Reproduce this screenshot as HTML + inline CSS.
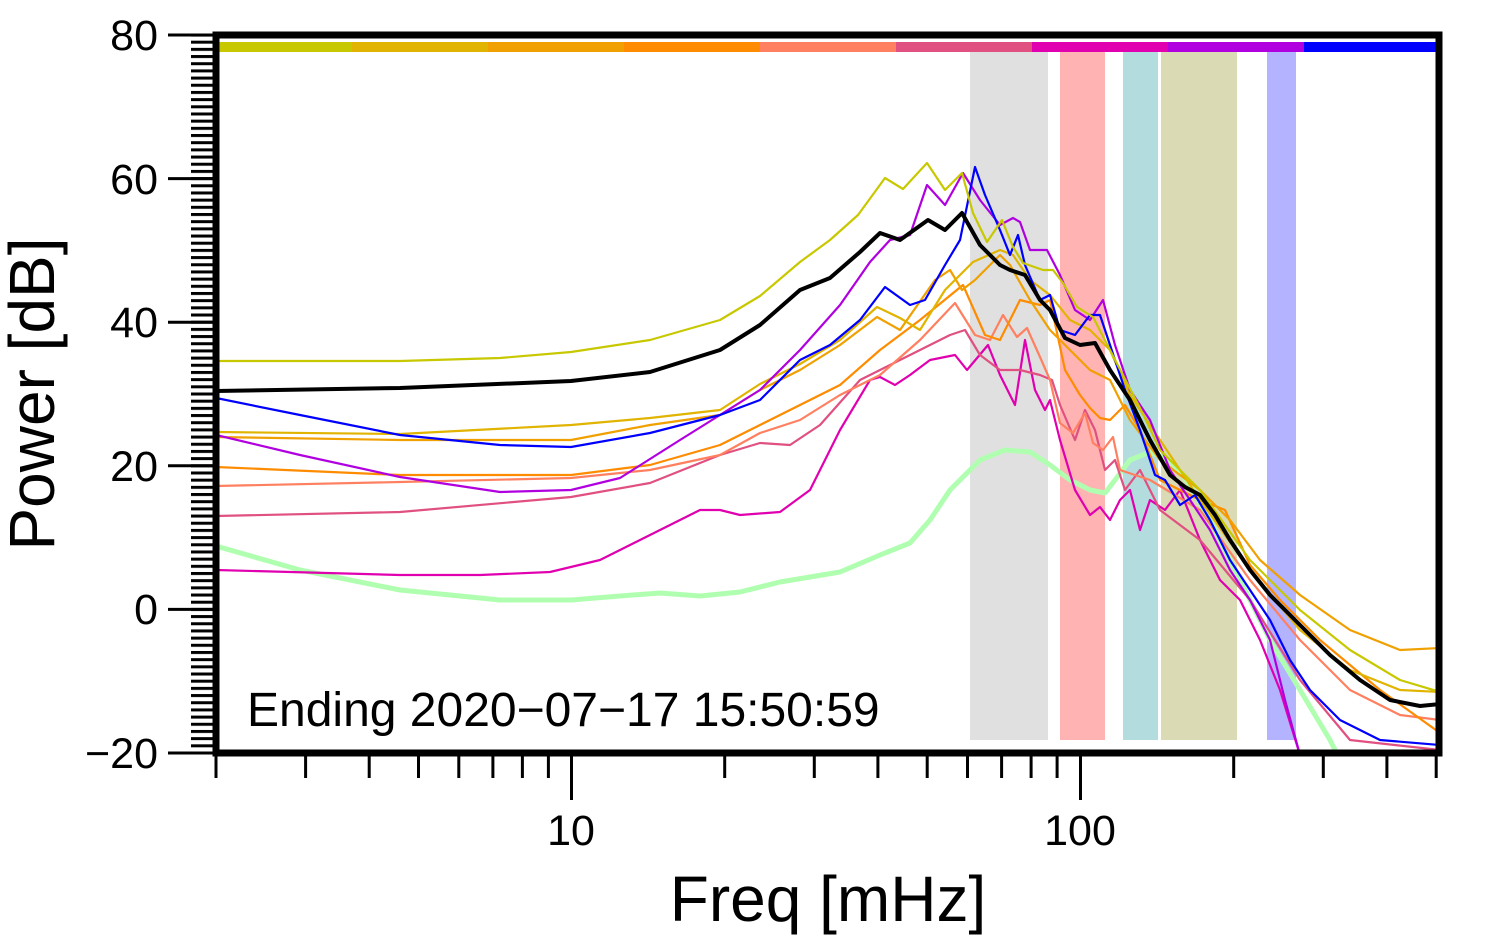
<!DOCTYPE html>
<html><head><meta charset="utf-8"><style>
html,body{margin:0;padding:0;background:#fff}
svg{display:block}
text{font-family:"Liberation Sans",sans-serif;fill:#000}
</style></head><body>
<svg width="1494" height="952" viewBox="0 0 1494 952" xmlns="http://www.w3.org/2000/svg">
<defs>
<clipPath id="c"><rect x="216" y="35" width="1223" height="718"/></clipPath>
<pattern id="mt" patternUnits="userSpaceOnUse" x="191" y="33.5" width="22" height="7.18"><rect x="0" y="0" width="22" height="3" fill="#000"/></pattern>
</defs>
<rect x="970" y="52" width="78" height="688" fill="#e0e0e0"/>
<rect x="1060" y="52" width="45" height="688" fill="#ffb3b3"/>
<rect x="1123" y="52" width="35" height="688" fill="#b3dcdf"/>
<rect x="1161" y="52" width="76" height="688" fill="#dadab4"/>
<rect x="1267" y="52" width="29" height="688" fill="#b3b3ff"/>
<g stroke-width="10">
<line x1="216" y1="47" x2="352" y2="47" stroke="#c8c800"/>
<line x1="352" y1="47" x2="488" y2="47" stroke="#e0b400"/>
<line x1="488" y1="47" x2="624" y2="47" stroke="#f0a000"/>
<line x1="624" y1="47" x2="760" y2="47" stroke="#ff8c00"/>
<line x1="760" y1="47" x2="896" y2="47" stroke="#ff8060"/>
<line x1="896" y1="47" x2="1032" y2="47" stroke="#e05080"/>
<line x1="1032" y1="47" x2="1168" y2="47" stroke="#e000b0"/>
<line x1="1168" y1="47" x2="1304" y2="47" stroke="#b000e0"/>
<line x1="1304" y1="47" x2="1440" y2="47" stroke="#0000ff"/>
</g>
<g clip-path="url(#c)" fill="none" stroke-linejoin="round" stroke-linecap="round">
<polyline stroke="#b0ffb0" stroke-width="5" points="216,546 300,570 400,590 500,600 571,600 620,596 660,593 700,596 740,592 780,582 840,572 880,555 910,543 930,520 950,490 980,460 1005,450 1030,452 1050,465 1070,480 1090,490 1105,493 1115,480 1130,460 1150,452 1170,460 1190,485 1210,520 1240,580 1270,640 1300,690 1330,740 1340,760"/>
<polyline stroke="#e000b0" stroke-width="2.2" points="216,570 400,575 480,575 550,572 600,560 660,530 700,510 720,510 740,515 780,512 810,490 840,430 870,380 880,377 895,385 910,375 930,360 955,355 967,370 988,345 1000,375 1015,405 1025,340 1035,390 1045,410 1050,400 1060,440 1075,490 1090,515 1100,507 1110,520 1120,500 1130,490 1140,530 1150,500 1165,510 1180,490 1200,540 1220,580 1240,600 1260,640 1280,690 1300,755"/>
<polyline stroke="#e05080" stroke-width="2.2" points="216,516 400,512 571,497 650,483 720,455 760,443 790,445 820,425 860,380 900,360 950,335 965,330 980,355 1000,370 1020,370 1040,375 1052,380 1060,405 1075,440 1085,410 1095,430 1105,470 1115,460 1125,490 1140,470 1160,510 1200,540 1250,600 1300,680 1350,740 1440,750"/>
<polyline stroke="#ff8060" stroke-width="2.2" points="216,486 400,482 571,478 650,470 720,455 760,433 800,420 840,395 880,375 920,340 955,303 975,335 990,340 1003,315 1017,337 1027,328 1040,357 1050,380 1060,423 1073,433 1085,413 1093,443 1103,450 1113,437 1120,470 1150,480 1200,510 1250,580 1300,640 1350,690 1400,715 1440,720"/>
<polyline stroke="#ff8c00" stroke-width="2.2" points="216,467 400,475 571,475 650,465 720,445 760,425 800,405 840,385 880,350 920,320 963,285 985,335 1000,340 1020,300 1040,305 1050,300 1065,370 1080,395 1090,408 1100,418 1110,420 1125,405 1140,430 1160,480 1200,500 1225,510 1250,565 1280,600 1320,640 1380,690 1440,733"/>
<polyline stroke="#f0a000" stroke-width="2.2" points="216,437 400,440 571,440 650,425 720,415 760,390 800,370 840,345 877,317 900,330 935,280 950,270 962,290 975,280 1000,255 1010,265 1030,300 1050,330 1070,350 1090,370 1110,380 1130,420 1160,460 1200,490 1230,520 1260,560 1300,595 1350,630 1400,650 1440,648"/>
<polyline stroke="#e0b400" stroke-width="2.2" points="216,432 400,434 571,425 650,418 720,410 760,384 800,364 840,340 877,307 900,318 920,330 945,290 973,262 1000,250 1013,255 1030,280 1050,295 1070,320 1090,330 1110,350 1130,395 1160,440 1200,500 1250,570 1300,630 1350,670 1400,690 1440,692"/>
<polyline stroke="#b000e0" stroke-width="2.2" points="216,435 300,455 400,477 500,492 571,490 620,478 680,440 720,415 760,390 800,350 840,305 870,262 890,240 910,235 927,185 945,205 963,173 980,200 1000,225 1013,218 1020,222 1030,250 1047,250 1060,275 1075,310 1090,320 1103,300 1115,345 1130,390 1150,420 1170,470 1190,500 1210,530 1230,570 1250,600 1270,640 1285,700 1300,755"/>
<polyline stroke="#0000ff" stroke-width="2.2" points="216,398 300,415 400,435 500,445 571,447 650,433 720,415 760,400 800,360 830,345 860,320 885,287 910,305 925,300 945,265 960,240 975,167 985,195 1000,230 1010,255 1018,235 1025,265 1040,300 1050,295 1060,330 1075,335 1090,315 1100,315 1110,345 1125,390 1140,430 1155,475 1165,480 1180,505 1195,495 1210,520 1230,560 1250,590 1270,620 1290,660 1310,690 1340,720 1380,740 1440,745"/>
<polyline stroke="#c8c800" stroke-width="2.2" points="216,361 400,361 500,358 571,352 650,340 720,320 760,296 800,262 830,240 858,215 885,178 903,189 927,163 945,190 962,173 973,213 987,242 1002,220 1013,247 1023,263 1043,270 1053,270 1063,283 1077,307 1093,317 1110,350 1127,383 1142,412 1160,450 1200,490 1250,560 1300,610 1350,650 1400,680 1440,692"/>
<polyline stroke="#000" stroke-width="4" points="216,391 400,388 571,381 650,372 720,350 760,325 800,290 830,278 860,252 880,233 900,240 928,220 945,230 962,213 980,245 1000,265 1010,270 1025,275 1040,300 1050,310 1065,338 1080,345 1095,343 1110,370 1130,400 1150,440 1170,475 1185,487 1200,495 1215,515 1230,540 1250,570 1270,595 1300,625 1330,655 1360,680 1390,700 1420,706 1440,704"/>
</g>
<rect x="216" y="35" width="1223" height="718" fill="none" stroke="#000" stroke-width="7"/>
<rect x="191" y="33.5" width="22" height="721" fill="url(#mt)"/>
<g stroke="#000" stroke-width="3">
<line x1="168" y1="35" x2="213" y2="35"/>
<line x1="168" y1="178.6" x2="213" y2="178.6"/>
<line x1="168" y1="322.2" x2="213" y2="322.2"/>
<line x1="168" y1="465.8" x2="213" y2="465.8"/>
<line x1="168" y1="609.4" x2="213" y2="609.4"/>
<line x1="168" y1="753" x2="213" y2="753"/>
</g>
<g stroke="#000" stroke-width="3">
<line x1="216" y1="753" x2="216" y2="778"/>
<line x1="305.6" y1="753" x2="305.6" y2="778"/>
<line x1="369.2" y1="753" x2="369.2" y2="778"/>
<line x1="418.5" y1="753" x2="418.5" y2="778"/>
<line x1="458.8" y1="753" x2="458.8" y2="778"/>
<line x1="492.9" y1="753" x2="492.9" y2="778"/>
<line x1="522.4" y1="753" x2="522.4" y2="778"/>
<line x1="548.4" y1="753" x2="548.4" y2="778"/>
<line x1="571.5" y1="753" x2="571.5" y2="800"/>
<line x1="724.7" y1="753" x2="724.7" y2="778"/>
<line x1="814.3" y1="753" x2="814.3" y2="778"/>
<line x1="877.9" y1="753" x2="877.9" y2="778"/>
<line x1="927.2" y1="753" x2="927.2" y2="778"/>
<line x1="967.5" y1="753" x2="967.5" y2="778"/>
<line x1="1001.6" y1="753" x2="1001.6" y2="778"/>
<line x1="1031.1" y1="753" x2="1031.1" y2="778"/>
<line x1="1057.1" y1="753" x2="1057.1" y2="778"/>
<line x1="1080.5" y1="753" x2="1080.5" y2="800"/>
<line x1="1233.7" y1="753" x2="1233.7" y2="778"/>
<line x1="1323.3" y1="753" x2="1323.3" y2="778"/>
<line x1="1386.9" y1="753" x2="1386.9" y2="778"/>
<line x1="1436.2" y1="753" x2="1436.2" y2="778"/>
</g>
<g font-size="43" text-anchor="end">
<text x="158" y="50">80</text>
<text x="158" y="194">60</text>
<text x="158" y="337">40</text>
<text x="158" y="481">20</text>
<text x="158" y="624">0</text>
<text x="158" y="768">−20</text>
</g>
<g font-size="43" text-anchor="middle">
<text x="571" y="845">10</text>
<text x="1080" y="845">100</text>
</g>
<text x="828" y="921" font-size="64" text-anchor="middle">Freq [mHz]</text>
<text transform="translate(54,394) rotate(-90)" font-size="64" text-anchor="middle">Power [dB]</text>
<text x="247" y="726" font-size="48">Ending 2020−07−17 15:50:59</text>
</svg>
</body></html>
